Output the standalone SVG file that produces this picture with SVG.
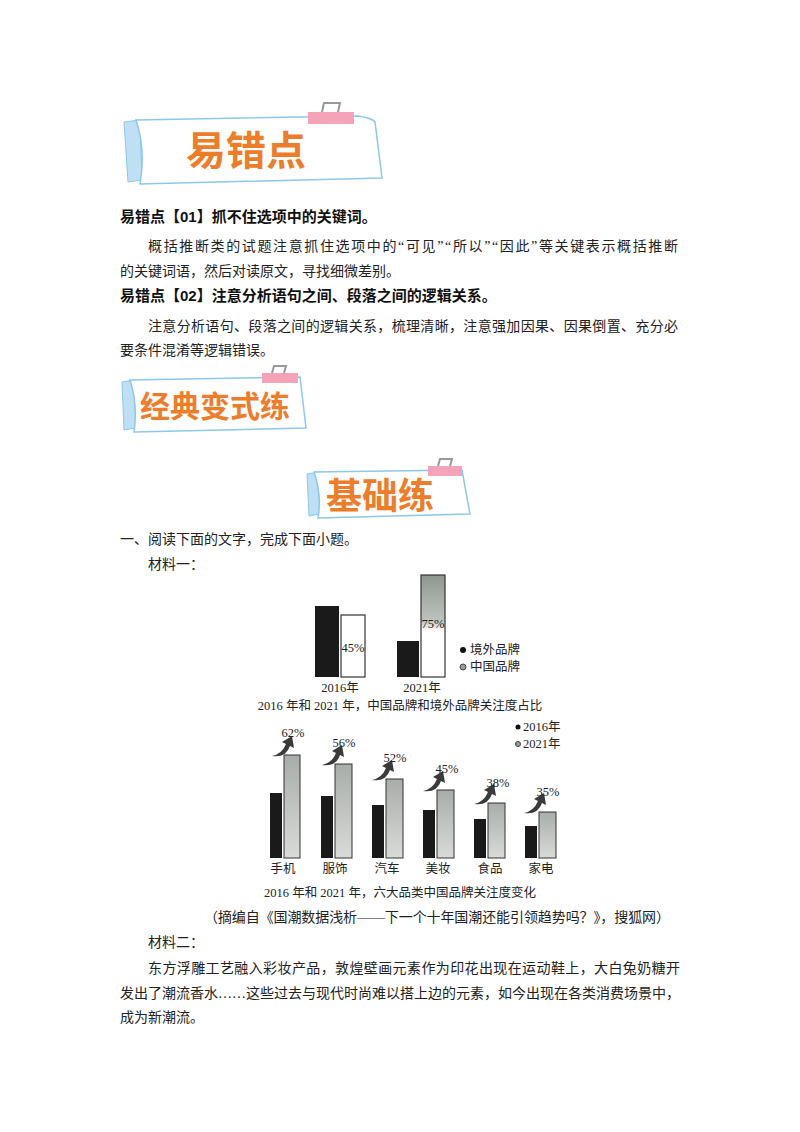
<svg xmlns="http://www.w3.org/2000/svg" width="800" height="1132" viewBox="0 0 800 1132">
<defs>
<style>
.t{font-family:"Liberation Serif","Noto Sans CJK SC",serif;font-size:14px;fill:#222}
.b{font-family:"Liberation Sans","Noto Sans CJK SC",sans-serif;font-size:15px;font-weight:bold;fill:#111}
.s{font-family:"Liberation Serif","Noto Sans CJK SC",serif;font-size:12.5px;fill:#222}
.h{font-family:"Noto Sans CJK SC",sans-serif;font-weight:bold;fill:#ee7d2a}
.ban{fill:#fff;stroke:#8cc8e8;stroke-width:1.5}
.tab{fill:#bfe0f4;stroke:#8cc8e8}
.clip{fill:#f4a3b8}
.bk{fill:#1a1a1a}
.wh{fill:#fff;stroke:#333;stroke-width:1.2}
</style>
<linearGradient id="g75" x1="0" y1="0" x2="0" y2="1"><stop offset="0" stop-color="#8f968f"/><stop offset="0.45" stop-color="#bfc3bf"/><stop offset="0.55" stop-color="#fff"/><stop offset="1" stop-color="#fff"/></linearGradient>
<linearGradient id="gs" x1="0" y1="0" x2="0" y2="1"><stop offset="0" stop-color="#a9ada9"/><stop offset="1" stop-color="#d8dbd8"/></linearGradient>
<path id="arr" d="M-10 8 Q0 6 4 -4 L0 -6 L10 -12 L12 0 L8 -2 Q4 10 -10 8 Z" fill="#3a3a3a"/>
</defs>
<g id="banner1">
<path class="tab" d="M124 122 L140 120 L142 180 L128 182 Z"/>
<path class="ban" d="M136 120 L358 116 Q372 118 375 122 L382 178 L140 184 Q146 150 136 120 Z"/>
<rect class="clip" x="308" y="112" width="46" height="12"/>
<path d="M322 112 L324 103 L340 103 L338 112" fill="none" stroke="#999" stroke-width="2"/>
<text class="h" x="186" y="165" font-size="40">易错点</text>
</g>
<g id="t1">
<text class="b" x="120" y="222">易错点【01】抓不住选项中的关键词。</text>
<text class="t" x="148" y="251" textLength="530">概括推断类的试题注意抓住选项中的“可见”“所以”“因此”等关键表示概括推断</text>
<text class="t" x="120" y="276">的关键词语，然后对读原文，寻找细微差别。</text>
<text class="b" x="120" y="301">易错点【02】注意分析语句之间、段落之间的逻辑关系。</text>
<text class="t" x="148" y="331" textLength="530">注意分析语句、段落之间的逻辑关系，梳理清晰，注意强加因果、因果倒置、充分必</text>
<text class="t" x="120" y="355">要条件混淆等逻辑错误。</text>
</g>
<g id="banner2">
<path class="tab" d="M122 382 L134 380 L136 428 L124 430 Z"/>
<path class="ban" d="M130 380 L300 377 L306 428 L134 432 Q138 405 130 380 Z"/>
<rect class="clip" x="262" y="373" width="36" height="10"/>
<path d="M272 373 L274 366 L286 366 L284 373" fill="none" stroke="#999" stroke-width="2"/>
<text class="h" x="140" y="417" font-size="30">经典变式练</text>
</g>
<g id="banner3">
<path class="tab" d="M307 474 L318 472 L320 514 L309 516 Z"/>
<path class="ban" d="M314 472 L462 470 L470 514 L318 518 Q322 495 314 472 Z"/>
<rect class="clip" x="428" y="466" width="34" height="10"/>
<path d="M438 466 L440 459 L452 459 L450 466" fill="none" stroke="#999" stroke-width="2"/>
<text class="h" x="326" y="509" font-size="36">基础练</text>
</g>
<g id="t2">
<text class="t" x="120" y="544">一、阅读下面的文字，完成下面小题。</text>
<text class="t" x="148" y="569">材料一：</text>
</g>
<g id="chart1">
<rect class="bk" x="315" y="606" width="24" height="71"/>
<rect class="wh" x="341" y="615" width="24" height="62"/>
<text class="s" x="353" y="652" text-anchor="middle" font-size="11">45%</text>
<rect class="bk" x="397" y="641" width="22" height="36"/>
<rect x="421" y="575" width="24" height="102" fill="url(#g75)" stroke="#333" stroke-width="1.2"/>
<text class="s" x="433" y="628" text-anchor="middle" font-size="12">75%</text>
<text class="s" x="340" y="692" text-anchor="middle">2016年</text>
<text class="s" x="422" y="692" text-anchor="middle">2021年</text>
<circle cx="463" cy="650" r="3" fill="#111"/>
<text class="s" x="470" y="654" font-size="11.5">境外品牌</text>
<circle cx="463" cy="667" r="3" fill="#999" stroke="#444"/>
<text class="s" x="470" y="671" font-size="11.5">中国品牌</text>
<text class="s" x="400" y="710" text-anchor="middle">2016 年和 2021 年，中国品牌和境外品牌关注度占比</text>
</g>
<g id="chart2">
<rect class="bk" x="270" y="793" width="12" height="65"/>
<rect x="284" y="755" width="16" height="103" fill="url(#gs)" stroke="#333"/>
<use href="#arr" x="282" y="748"/><text class="s" x="293" y="737" text-anchor="middle" font-size="11">62%</text>
<rect class="bk" x="321" y="796" width="12" height="62"/>
<rect x="335" y="764" width="17" height="94" fill="url(#gs)" stroke="#333"/>
<use href="#arr" x="332" y="757"/><text class="s" x="344" y="747" text-anchor="middle" font-size="11">56%</text>
<rect class="bk" x="372" y="805" width="12" height="53"/>
<rect x="386" y="779" width="17" height="79" fill="url(#gs)" stroke="#333"/>
<use href="#arr" x="382" y="772"/><text class="s" x="395" y="762" text-anchor="middle" font-size="11">52%</text>
<rect class="bk" x="423" y="810" width="12" height="48"/>
<rect x="437" y="790" width="17" height="68" fill="url(#gs)" stroke="#333"/>
<use href="#arr" x="433" y="783"/><text class="s" x="447" y="773" text-anchor="middle" font-size="11">45%</text>
<rect class="bk" x="474" y="819" width="12" height="39"/>
<rect x="488" y="803" width="17" height="55" fill="url(#gs)" stroke="#333"/>
<use href="#arr" x="484" y="796"/><text class="s" x="498" y="787" text-anchor="middle" font-size="11">38%</text>
<rect class="bk" x="525" y="826" width="12" height="32"/>
<rect x="539" y="812" width="17" height="46" fill="url(#gs)" stroke="#333"/>
<use href="#arr" x="534" y="805"/><text class="s" x="548" y="796" text-anchor="middle" font-size="11">35%</text>
<g class="s" font-size="12" text-anchor="middle">
<text x="283" y="873">手机</text><text x="335" y="873">服饰</text><text x="387" y="873">汽车</text>
<text x="438" y="873">美妆</text><text x="490" y="873">食品</text><text x="541" y="873">家电</text>
</g>
<circle cx="518" cy="727" r="2.5" fill="#111"/>
<text class="s" x="523" y="731" font-size="11">2016年</text>
<circle cx="518" cy="744" r="2.5" fill="#999" stroke="#444"/>
<text class="s" x="523" y="748" font-size="11">2021年</text>
<text class="s" x="400" y="897" text-anchor="middle">2016 年和 2021 年，六大品类中国品牌关注度变化</text>
</g>
<g id="t3">
<text class="t" x="204" y="922" textLength="466">（摘编自《国潮数据浅析——下一个十年国潮还能引领趋势吗？》，搜狐网）</text>
<text class="t" x="148" y="947">材料二：</text>
<text class="t" x="148" y="973" textLength="532">东方浮雕工艺融入彩妆产品，敦煌壁画元素作为印花出现在运动鞋上，大白兔奶糖开</text>
<text class="t" x="120" y="998" textLength="560">发出了潮流香水……这些过去与现代时尚难以搭上边的元素，如今出现在各类消费场景中，</text>
<text class="t" x="120" y="1022">成为新潮流。</text>
</g>
</svg>
